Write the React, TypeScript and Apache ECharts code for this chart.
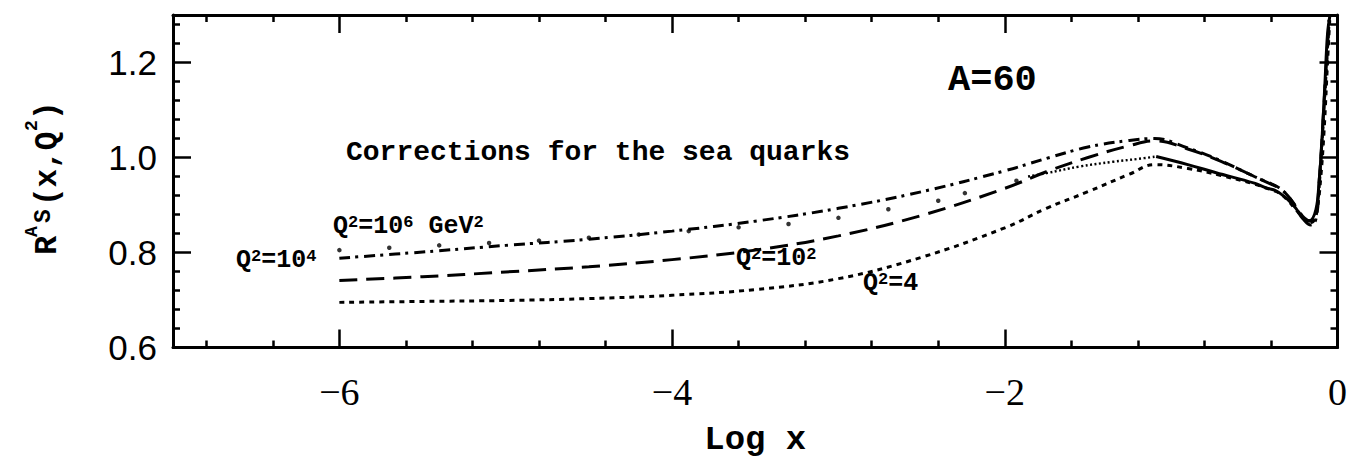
import React, { useEffect, useRef } from "react";
import * as echarts from "echarts";

// Axis ticks
const xMajorTicks = [-6, -4, -2, 0];
const xMinorTicks = [-6.8, -6.4, -5.6, -5.2, -4.8, -4.4, -3.6, -3.2, -2.8, -2.4, -1.6, -1.2, -0.8, -0.4];
const yMajorTicks = [0.6, 0.8, 1.0, 1.2];
const yMinorTicks = [0.64, 0.68, 0.72, 0.76, 0.84, 0.88, 0.92, 0.96, 1.04, 1.08, 1.12, 1.16, 1.24, 1.28];

// Q^2 = 4 (dotted)
const xQ4 = [-6, -5.5, -5, -4.5, -4, -3.5, -3, -2.5, -2, -1.75, -1.5, -1.25, -1.1, -0.9, -0.7, -0.5, -0.4, -0.35, -0.3, -0.25, -0.2, -0.17, -0.14, -0.12, -0.1, -0.08, -0.06, -0.045];
const rQ4 = [0.695, 0.697, 0.699, 0.703, 0.71, 0.722, 0.745, 0.79, 0.852, 0.893, 0.928, 0.965, 0.985, 0.977, 0.962, 0.944, 0.932, 0.925, 0.91, 0.89, 0.87, 0.862, 0.868, 0.895, 0.96, 1.06, 1.2, 1.3];

// Q^2 = 10^2 (long dash)
const xQ100 = [-6, -5.5, -5, -4.5, -4, -3.5, -3, -2.5, -2, -1.75, -1.5, -1.25, -1.1, -0.9, -0.7, -0.5, -0.4, -0.35, -0.3, -0.25, -0.2, -0.16, -0.13, -0.11, -0.09, -0.07, -0.05];
const rQ100 = [0.741, 0.749, 0.759, 0.77, 0.785, 0.805, 0.835, 0.878, 0.935, 0.97, 1.0, 1.025, 1.035, 1.018, 0.992, 0.96, 0.944, 0.935, 0.92, 0.897, 0.873, 0.866, 0.88, 0.95, 1.06, 1.18, 1.29];

// Q^2 = 10^4 (dash-dot)
const xQ1e4 = [-6, -5.5, -5, -4.5, -4, -3.5, -3, -2.5, -2, -1.75, -1.5, -1.25, -1.1, -0.9, -0.7, -0.5, -0.4, -0.35, -0.3, -0.25, -0.2, -0.16, -0.13, -0.11, -0.09, -0.07, -0.05];
const rQ1e4 = [0.788, 0.801, 0.815, 0.828, 0.845, 0.866, 0.893, 0.928, 0.972, 0.998, 1.022, 1.036, 1.04, 1.02, 0.993, 0.96, 0.945, 0.936, 0.92, 0.895, 0.868, 0.858, 0.87, 0.94, 1.05, 1.17, 1.29];

// Q^2 = 10^6 GeV^2 : sparse points, fine dots, then solid
const xQ1e6Sparse = [-6.0, -5.7, -5.4, -5.1, -4.8, -4.5, -4.2, -3.9, -3.6, -3.3, -3.0, -2.7, -2.4, -2.24, -1.93];
const rQ1e6Sparse = [0.805, 0.81, 0.815, 0.82, 0.825, 0.831, 0.838, 0.845, 0.853, 0.86, 0.873, 0.891, 0.909, 0.925, 0.951];
const xQ1e6Fine = [-1.86, -1.75, -1.55, -1.35, -1.2, -1.09];
const rQ1e6Fine = [0.96, 0.967, 0.981, 0.991, 0.997, 1.002];
const xQ1e6Solid = [-1.09, -0.9, -0.73, -0.5, -0.43, -0.37, -0.3, -0.25, -0.21, -0.17, -0.13, -0.11, -0.1, -0.09, -0.075, -0.06, -0.045];
const rQ1e6Solid = [1.002, 0.985, 0.968, 0.946, 0.936, 0.93, 0.912, 0.893, 0.872, 0.867, 0.89, 0.953, 0.998, 1.058, 1.16, 1.26, 1.3];

const pairs = (xs: number[], ys: number[]) => xs.map((x, i) => [x, ys[i]]);

const BLACK = "#000";
const MONO = "'Liberation Mono', 'DejaVu Sans Mono', monospace";

export default function App() {
  const ref = useRef<HTMLDivElement>(null);

  useEffect(() => {
    const chart = echarts.init(ref.current!, null, { renderer: "svg" });

    const hidden = {
      type: "value",
      min: -7,
      max: 0,
      splitLine: { show: false },
      axisLabel: { show: false },
    };
    const tickLine = { color: BLACK, width: 2.5 };
    const frameLine = { show: true, onZero: false, lineStyle: { color: BLACK, width: 3 } };
    const noLine = { show: false, onZero: false };

    const xAxes = [
      {
        ...hidden,
        position: "bottom",
        axisLine: frameLine,
        axisTick: { show: true, inside: true, length: 18, customValues: xMajorTicks, lineStyle: tickLine },
        axisLabel: {
          show: true,
          customValues: xMajorTicks,
          formatter: (v: number) => (v < 0 ? "\u2212" + Math.abs(v) : String(v)),
          color: BLACK,
          fontFamily: "'Liberation Serif', serif",
          fontSize: 38,
          margin: 25,
        },
        name: "Log x",
        nameLocation: "middle",
        nameGap: 92,
        nameTextStyle: { color: BLACK, fontFamily: MONO, fontWeight: "bold", fontSize: 34, verticalAlign: "middle" },
      },
      {
        ...hidden,
        position: "bottom",
        axisLine: noLine,
        axisTick: { show: true, inside: true, length: 7, customValues: xMinorTicks, lineStyle: tickLine },
      },
      {
        ...hidden,
        position: "top",
        axisLine: frameLine,
        axisTick: { show: true, inside: true, length: 18, customValues: xMajorTicks, lineStyle: tickLine },
      },
      {
        ...hidden,
        position: "top",
        axisLine: noLine,
        axisTick: { show: true, inside: true, length: 7, customValues: xMinorTicks, lineStyle: tickLine },
      },
    ];

    const yHidden = { ...hidden, min: 0.6, max: 1.3 };
    const yAxes = [
      {
        ...yHidden,
        position: "left",
        axisLine: frameLine,
        axisTick: { show: true, inside: true, length: 18, customValues: yMajorTicks, lineStyle: tickLine },
        axisLabel: {
          show: true,
          customValues: yMajorTicks,
          formatter: (v: number) => v.toFixed(1),
          color: BLACK,
          fontFamily: "'Liberation Sans', Arial, sans-serif",
          fontSize: 35,
          margin: 16,
        },
      },
      {
        ...yHidden,
        position: "left",
        axisLine: noLine,
        axisTick: { show: true, inside: true, length: 7, customValues: yMinorTicks, lineStyle: tickLine },
      },
      {
        ...yHidden,
        position: "right",
        axisLine: frameLine,
        axisTick: { show: true, inside: true, length: 18, customValues: yMajorTicks, lineStyle: tickLine },
      },
      {
        ...yHidden,
        position: "right",
        axisLine: noLine,
        axisTick: { show: true, inside: true, length: 7, customValues: yMinorTicks, lineStyle: tickLine },
      },
    ];

    const lineSeries = (name: string, data: number[][], type: any, width = 3) => ({
      name,
      type: "line",
      xAxisIndex: 0,
      yAxisIndex: 0,
      data,
      showSymbol: false,
      smooth: 0.4,
      clip: true,
      lineStyle: { color: BLACK, width, type, cap: "butt" },
    });

    const label = (x: number, y: number, parts: [string, boolean][], size = 25) => {
      const text = parts.map(([t, sup]) => (sup ? `{s|${t}}` : `{m|${t}}`)).join("");
      return {
        type: "text",
        x,
        y,
        style: {
          text,
          fill: BLACK,
          fontFamily: MONO,
          fontWeight: "bold",
          fontSize: size,
          textAlign: "left",
          textVerticalAlign: "middle",
          rich: {
            m: { fontFamily: MONO, fontWeight: "bold", fontSize: size, fill: BLACK, color: BLACK },
            s: {
              fontFamily: MONO,
              fontWeight: "bold",
              fontSize: Math.round(size * 0.66),
              verticalAlign: "top",
              fill: BLACK,
              color: BLACK,
            },
          },
        },
      };
    };

    const titleText = (x: number, y: number, text: string, size: number) => ({
      type: "text",
      x,
      y,
      style: {
        text,
        fill: BLACK,
        fontFamily: MONO,
        fontWeight: "bold",
        fontSize: size,
        textAlign: "left",
        textVerticalAlign: "middle",
      },
    });

    chart.setOption({
      animation: false,
      backgroundColor: "#fff",
      grid: { left: 173, right: 11.5, top: 15, bottom: 109.5, containLabel: false, outerBoundsMode: "none" },
      xAxis: xAxes,
      yAxis: yAxes,
      series: [
        lineSeries("Q²=4", pairs(xQ4, rQ4), [5, 5]),
        lineSeries("Q²=10²", pairs(xQ100, rQ100), [18, 9]),
        lineSeries("Q²=10⁴", pairs(xQ1e4, rQ1e4), [11, 5, 3, 6]),
        {
          name: "Q²=10⁶ GeV² (points)",
          type: "scatter",
          xAxisIndex: 0,
          yAxisIndex: 0,
          data: pairs(xQ1e6Sparse, rQ1e6Sparse),
          symbol: "circle",
          symbolSize: 4.5,
          itemStyle: { color: BLACK },
        },
        lineSeries("Q²=10⁶ GeV²", pairs(xQ1e6Fine, rQ1e6Fine), [2, 2.5], 2.4),
        lineSeries("Q²=10⁶ GeV² ", pairs(xQ1e6Solid, rQ1e6Solid), "solid", 3),
      ],
      graphic: [
        titleText(346, 152, "Corrections for the sea quarks", 28),
        titleText(948, 80, "A=60", 37),
        label(333, 226, [["Q", false], ["2", true], ["=10", false], ["6", true], [" GeV", false], ["2", true]]),
        label(236, 260, [["Q", false], ["2", true], ["=10", false], ["4", true]]),
        label(736, 258, [["Q", false], ["2", true], ["=10", false], ["2", true]]),
        label(863, 283, [["Q", false], ["2", true], ["=4", false]]),
        {
          type: "group",
          x: 47,
          y: 256,
          rotation: Math.PI / 2,
          children: [
            titleText(1, 0, "R", 32),
            titleText(19, -15, "A", 18),
            titleText(33, -3, "S", 23),
            titleText(50, 0, "(x,Q", 31),
            titleText(125, -15, "2", 18),
            titleText(136, 0, ")", 31),
          ],
        },
      ],
    });

    return () => chart.dispose();
  }, []);

  return (
    <div
      ref={ref}
      style={{ position: "fixed", left: 0, top: 0, width: 1349, height: 457, background: "#fff" }}
    />
  );
}
